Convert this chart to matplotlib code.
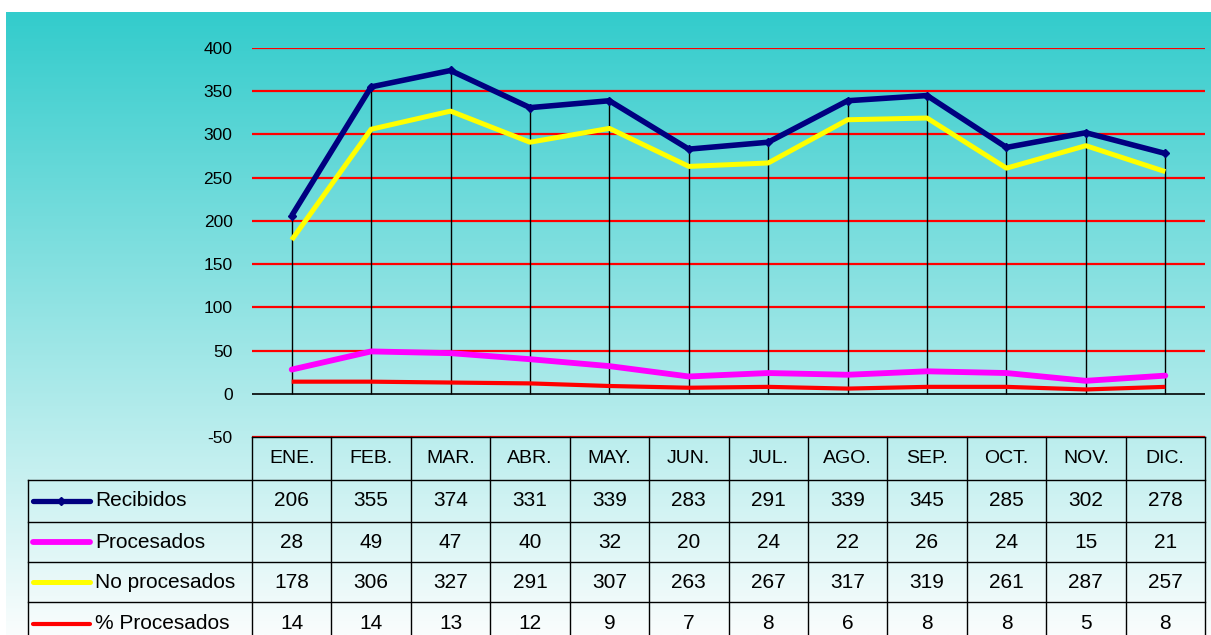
import numpy as np
import matplotlib
matplotlib.use('Agg')
import matplotlib.pyplot as plt
from matplotlib.transforms import blended_transform_factory
from matplotlib.lines import Line2D

plt.rcParams['font.family'] = ['Liberation Sans', 'DejaVu Sans']
plt.rcParams['axes.unicode_minus'] = False

# datos
meses = ['ENE.', 'FEB.', 'MAR.', 'ABR.', 'MAY.', 'JUN.', 'JUL.', 'AGO.', 'SEP.', 'OCT.', 'NOV.', 'DIC.']
recibidos = [206, 355, 374, 331, 339, 283, 291, 339, 345, 285, 302, 278]
procesados = [28, 49, 47, 40, 32, 20, 24, 22, 26, 24, 15, 21]
no_procesados = [178, 306, 327, 291, 307, 263, 267, 317, 319, 261, 287, 257]
pct_procesados = [14, 14, 13, 12, 9, 7, 8, 6, 8, 8, 5, 8]

series = [
    ('Recibidos', recibidos, '#000080', 3.8),
    ('Procesados', procesados, '#FF00FF', 4.2),
    ('No procesados', no_procesados, '#FFFF00', 3.6),
    ('% Procesados', pct_procesados, '#FF0000', 3.0),
]

W, H = 1211, 635
fig = plt.figure(figsize=(W / 100, H / 100), dpi=100)
fig.patch.set_facecolor('white')

# fondo degradado
bg = fig.add_axes([6 / W, 0, 1 - 6 / W, 1 - 12 / H])
top = np.array([51, 204, 204]) / 255
bot = np.array([250, 253, 253]) / 255
t = np.linspace(0, 1, 256)[:, None]
grad = top + (bot - top) * t
bg.imshow(grad[:, None, :].repeat(2, axis=1), aspect='auto', extent=[0, 1, 0, 1])
bg.set_axis_off()

# area del grafico
x0, x1 = 252, 1205
ytop, ybot = 48, 437
ax = fig.add_axes([x0 / W, 1 - ybot / H, (x1 - x0) / W, (ybot - ytop) / H])
ax.patch.set_alpha(0)
x = np.arange(len(meses))
ax.set_xlim(-0.5, len(meses) - 0.5)
ax.set_ylim(-50, 400)
for s in ax.spines.values():
    s.set_visible(False)
ax.set_xticks([])
ax.set_yticks(np.arange(-50, 401, 50))
ax.tick_params(axis='y', length=0, labelsize=12.5, pad=14)

for yv in np.arange(-50, 401, 50):
    if yv != 0:
        ax.axhline(yv, color='#FF0000', lw=1.6, zorder=1)
ax.axhline(0, color='black', lw=1.2, zorder=2)

ax.vlines(x, 0, recibidos, color='black', lw=1.0, zorder=3)

ax.plot(x, pct_procesados, color='#FF0000', lw=3.0, zorder=4, solid_capstyle='butt')
ax.plot(x, procesados, color='#FF00FF', lw=4.2, zorder=4, solid_capstyle='round')
ax.plot(x, no_procesados, color='#FFFF00', lw=3.6, zorder=4, solid_capstyle='butt')
ax.plot(x, recibidos, color='#000080', lw=4.0, zorder=5, marker='D', ms=4,
        solid_capstyle='butt')

# tabla de datos
tr = blended_transform_factory(ax.transData, fig.transFigure)
fy = lambda py: 1 - py / H
rows_px = [437, 480, 522, 562, 602, 645]
lab_x0 = 28
fs = 15

# lineas horizontales
fig.add_artist(Line2D([x0 / W, x1 / W], [fy(437), fy(437)], color='black', lw=1.0,
                      transform=fig.transFigure))
for py in rows_px[1:5]:
    fig.add_artist(Line2D([lab_x0 / W, x1 / W], [fy(py), fy(py)], color='black', lw=1.0,
                          transform=fig.transFigure))
# lineas verticales
for i in range(len(meses) + 1):
    fig.add_artist(Line2D([i - 0.5, i - 0.5], [fy(437), 0], color='black', lw=1.0,
                          transform=tr))
fig.add_artist(Line2D([lab_x0 / W, lab_x0 / W], [fy(480), 0], color='black', lw=1.0,
                      transform=fig.transFigure))

# encabezados
hc = (rows_px[0] + rows_px[1]) / 2
for i, m in enumerate(meses):
    fig.text(i, fy(hc), m, transform=tr, ha='center', va='center', fontsize=14)

# filas
for r, (name, vals, col, lw) in enumerate(series):
    cy = fy((rows_px[r + 1] + rows_px[r + 2]) / 2)
    for i, v in enumerate(vals):
        fig.text(i, cy, str(v), transform=tr, ha='center', va='center', fontsize=fs)
    fig.add_artist(Line2D([33 / W, 90 / W], [cy, cy], color=col, lw=lw,
                          solid_capstyle='round', transform=fig.transFigure))
    if name == 'Recibidos':
        fig.add_artist(Line2D([61 / W], [cy], color=col, marker='D', ms=4,
                              transform=fig.transFigure))
    fig.text(95 / W, cy, name, ha='left', va='center', fontsize=fs)

fig.savefig('out.png', dpi=100)
